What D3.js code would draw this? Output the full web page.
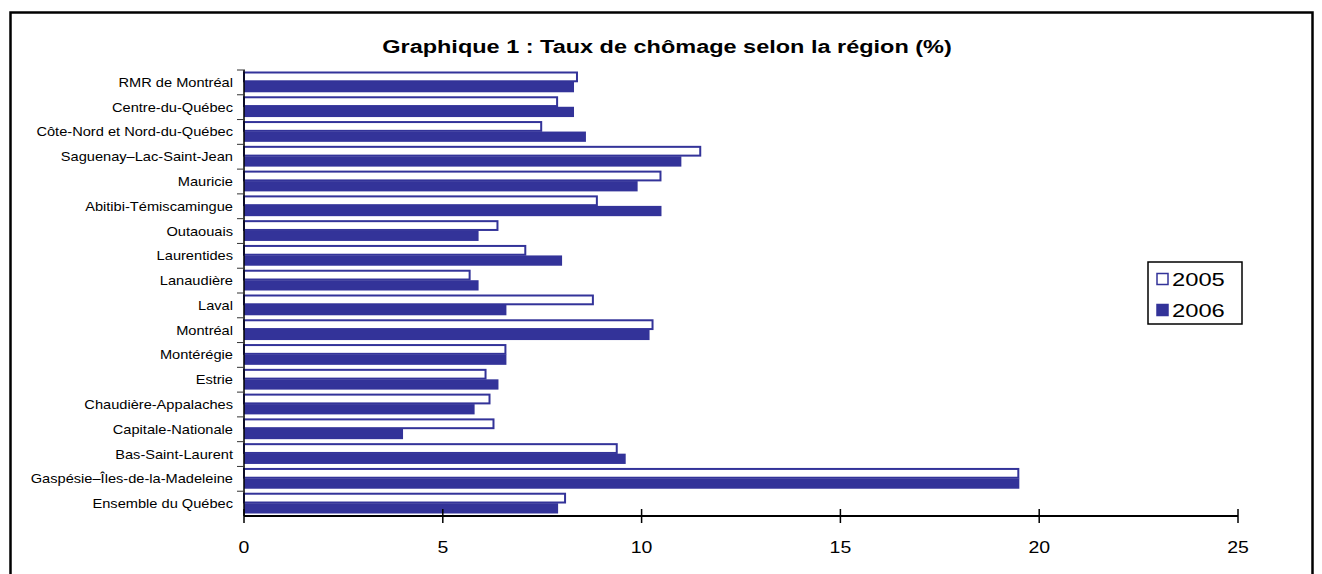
<!DOCTYPE html>
<meta charset="utf-8">
<style>
body { margin: 0; background: #fff; }
svg { display: block; font-family: "Liberation Sans", Arial, sans-serif; }
.ytick { stroke: #333; stroke-width: 1px; }
</style>
<body>
<script src="https://cdn.jsdelivr.net/npm/d3@7/dist/d3.min.js"></script>
<script>
var width = 1322, height = 574;

// categories, top to bottom as in the picture
var regions = ["RMR de Montréal", "Centre-du-Québec", "Côte-Nord et Nord-du-Québec",
  "Saguenay–Lac-Saint-Jean", "Mauricie", "Abitibi-Témiscamingue", "Outaouais",
  "Laurentides", "Lanaudière", "Laval", "Montréal", "Montérégie", "Estrie",
  "Chaudière-Appalaches", "Capitale-Nationale", "Bas-Saint-Laurent",
  "Gaspésie–Îles-de-la-Madeleine", "Ensemble du Québec"];
var years = ["2005", "2006"];
var taux2005 = [8.4, 7.9, 7.5, 11.5, 10.5, 8.9, 6.4, 7.1, 5.7, 8.8, 10.3, 6.6, 6.1, 6.2, 6.3, 9.4, 19.5, 8.1];
var taux2006 = [8.3, 8.3, 8.6, 11.0, 9.9, 10.5, 5.9, 8.0, 5.9, 6.6, 10.2, 6.6, 6.4, 5.8, 4.0, 9.6, 19.5, 7.9];
var xTicks = [0, 5, 10, 15, 20, 25];

var blue = "#333399";

// the original text is a bit wider than Liberation Sans, so stretch it horizontally
function place(sel, fx, fy, sx) {
  sel.attr("x", 0).attr("y", 0)
     .attr("transform", function(d, i) {
       return "translate(" + fx(d, i) + "," + fy(d, i) + ") scale(" + sx + ",1)";
     });
}

var svg = d3.select("body").append("svg")
    .attr("width", width)
    .attr("height", height);

// chart frame (bottom edge is outside the window)
svg.append("rect")
    .attr("x", 10.5).attr("y", 12.5)
    .attr("width", 1302).attr("height", 620)
    .attr("fill", "none").attr("stroke", "#000").attr("stroke-width", 2.5);

svg.append("text")
    .attr("text-anchor", "middle")
    .style("font-size", "18.5px")
    .style("font-weight", "bold")
    .text("Graphique 1 : Taux de chômage selon la région (%)")
    .call(place, function() { return 667; }, function() { return 53; }, 1.27);

var plot = {left: 244, right: 1238, top: 70, bottom: 516};

var x = d3.scaleLinear().domain([0, 25]).range([plot.left, plot.right]);
var y = d3.scaleBand().domain(regions).range([plot.top, plot.bottom]);
var inner = d3.scaleBand().domain(years).range([1.5, y.bandwidth() - 2.5]).paddingInner(0.02);

var rows = regions.map(function(r, i) {
  return {region: r, values: [{year: "2005", v: taux2005[i]}, {year: "2006", v: taux2006[i]}]};
});

var g = svg.selectAll("g.row")
  .data(rows)
  .enter().append("g")
    .attr("class", "row")
    .attr("transform", function(d) { return "translate(0," + y(d.region) + ")"; });

g.selectAll("rect")
  .data(function(d) { return d.values; })
  .enter().append("rect")
    .attr("x", x(0))
    .attr("y", function(d) { return inner(d.year) + (d.year == "2005" ? 1 : 0); })
    .attr("width", function(d) { return x(d.v) - x(0) - (d.year == "2005" ? 1 : 0); })
    .attr("height", function(d) { return d.year == "2005" ? inner.bandwidth() - 1.5 : inner.bandwidth(); })
    .attr("fill", function(d) { return d.year == "2005" ? "#fff" : blue; })
    .attr("stroke", function(d) { return d.year == "2005" ? blue : "none"; })
    .attr("stroke-width", 2);

// category axis
var yAxis = svg.append("g");
yAxis.append("line")
    .attr("x1", plot.left).attr("x2", plot.left)
    .attr("y1", plot.top).attr("y2", plot.bottom)
    .attr("stroke", "#000").attr("stroke-width", 1.5);
yAxis.selectAll("line.ytick")
  .data(regions)
  .enter().append("line")
    .attr("class", "ytick")
    .attr("x1", plot.left - 7).attr("x2", plot.left + 1)
    .attr("y1", function(d) { return y(d); })
    .attr("y2", function(d) { return y(d); });
yAxis.selectAll("text")
  .data(regions)
  .enter().append("text")
    .attr("text-anchor", "end")
    .style("font-size", "12.5px")
    .text(function(d) { return d; })
    .call(place, function() { return plot.left - 11; },
          function(d) { return y(d) + y.bandwidth() / 2 + 4.5; }, 1.17);

// value axis
var xAxis = svg.append("g");
xAxis.append("line")
    .attr("x1", plot.left).attr("x2", plot.right)
    .attr("y1", plot.bottom).attr("y2", plot.bottom)
    .attr("stroke", "#000").attr("stroke-width", 2);
xAxis.selectAll("line.xtick")
  .data(xTicks)
  .enter().append("line")
    .attr("x1", function(d) { return x(d); }).attr("x2", function(d) { return x(d); })
    .attr("y1", plot.bottom - 7).attr("y2", plot.bottom + 7)
    .attr("stroke", "#000").attr("stroke-width", 1.5);
xAxis.selectAll("text")
  .data(xTicks)
  .enter().append("text")
    .attr("text-anchor", "middle")
    .style("font-size", "16.5px")
    .text(function(d) { return d; })
    .call(place, function(d) { return x(d); }, function() { return 553; }, 1.18);

// legend
var legend = svg.append("g").attr("transform", "translate(1148,262)");
legend.append("rect")
    .attr("width", 94).attr("height", 62)
    .attr("fill", "#fff").attr("stroke", "#000").attr("stroke-width", 1.5);
var li = legend.selectAll("g")
  .data(years)
  .enter().append("g")
    .attr("transform", function(d, i) { return "translate(8," + (11 + i * 31) + ")"; });
li.append("rect")
    .attr("x", 1).attr("y", 0.5)
    .attr("width", 11).attr("height", 11)
    .attr("fill", function(d) { return d == "2005" ? "#fff" : blue; })
    .attr("stroke", blue).attr("stroke-width", 1.5);
li.append("text")
    .style("font-size", "19px")
    .text(function(d) { return d; })
    .call(place, function() { return 16; }, function() { return 13; }, 1.25);
</script>
</body>
